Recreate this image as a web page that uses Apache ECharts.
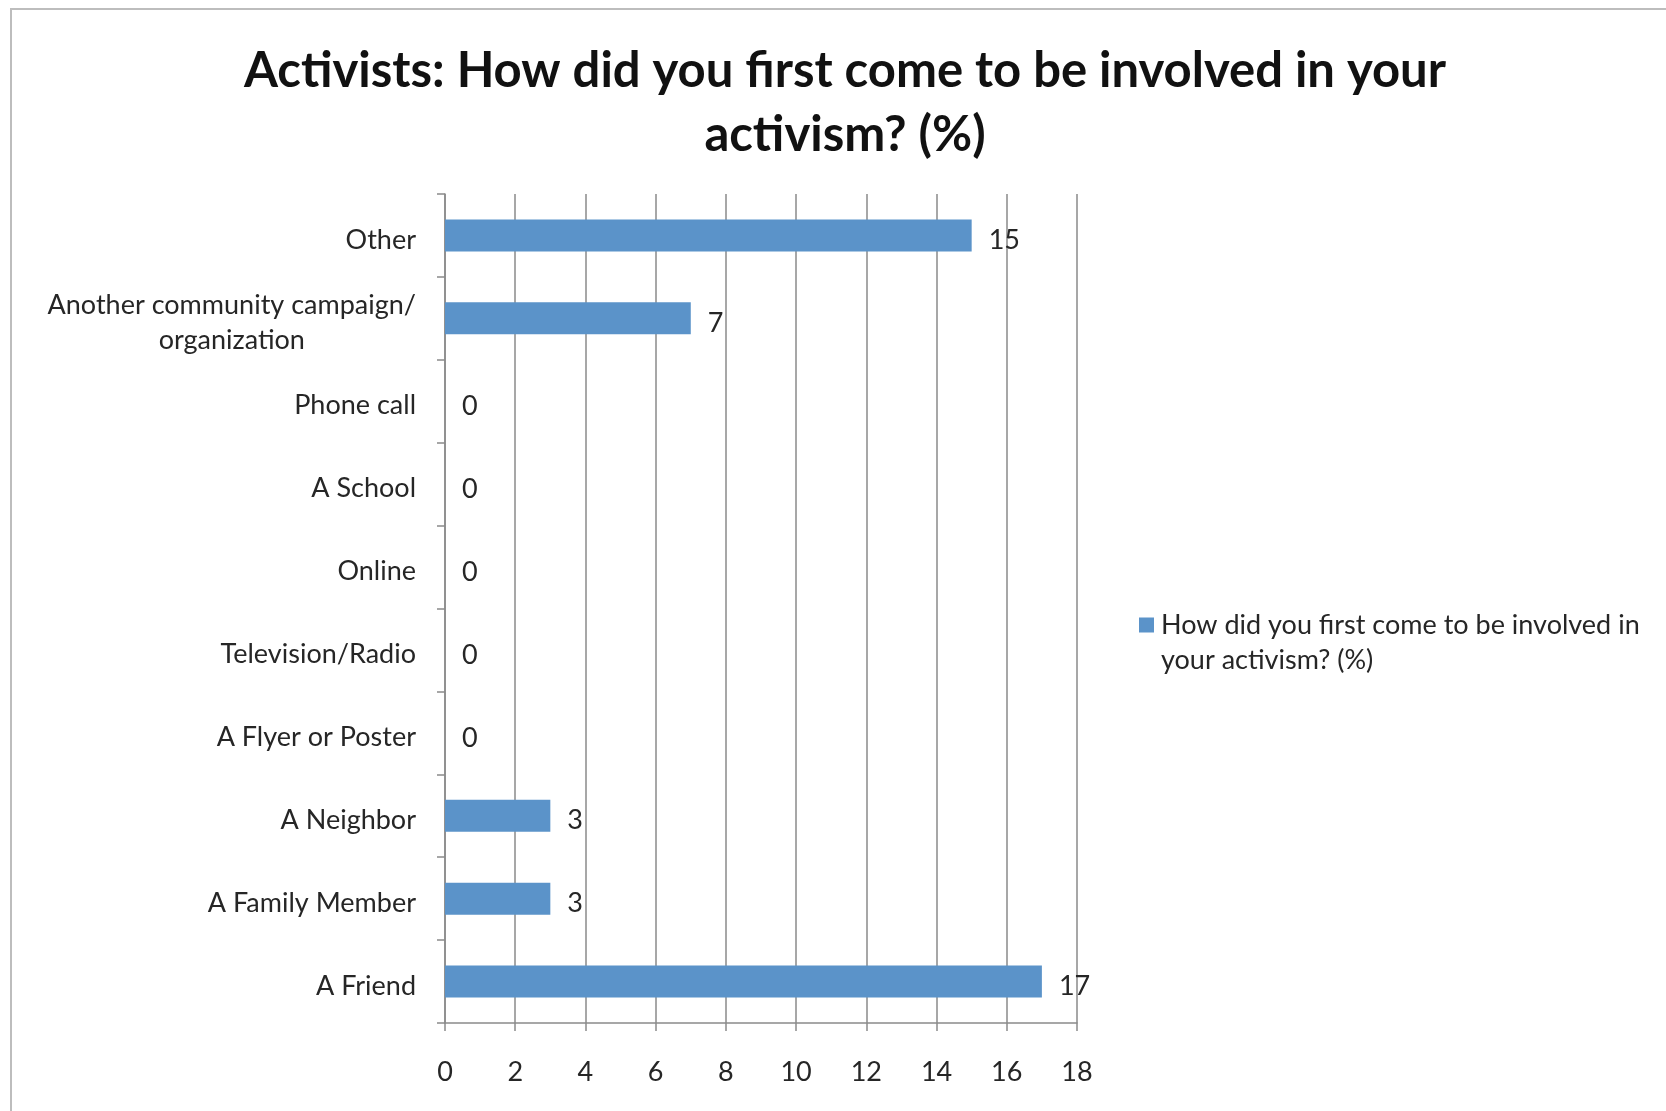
<!DOCTYPE html>
<html>
<head>
<meta charset="utf-8">
<title>Activists: How did you first come to be involved in your activism? (%)</title>
<script src="https://cdn.jsdelivr.net/npm/echarts@6/dist/echarts.min.js"></script>
<style>
  html, body { margin: 0; padding: 0; background: #ffffff; }
  #chart { width: 1666px; height: 1111px; }
</style>
</head>
<body>
<div id="chart"></div>
<script>
// Categories listed bottom to top (category axis starts at the bottom)
const categories = [
  'A Friend',
  'A Family Member',
  'A Neighbor',
  'A Flyer or Poster',
  'Television/Radio',
  'Online',
  'A School',
  'Phone call',
  'Another community campaign/\norganization',
  'Other'
];
const shares = [17, 3, 3, 0, 0, 0, 0, 0, 7, 15];
const seriesName = 'How did you first come to be involved in your activism? (%)';
const legendLines = ['How did you first come to be involved in', 'your activism? (%)'];
const titleText = 'Activists: How did you first come to be involved in your\nactivism? (%)';

const FONT = 'Lato, "Open Sans", sans-serif';
const TEXT = '#262626';
const GRID = '#8a8a8a';
const BAR = '#5b93c9';
const FS = 27;

const chart = echarts.init(document.getElementById('chart'), null, { renderer: 'canvas' });

chart.setOption({
  backgroundColor: '#ffffff',
  animation: false,
  graphic: [{
    type: 'rect',
    shape: { x: 11, y: 9, width: 2000, height: 2000 },
    style: { fill: 'none', stroke: '#bdbdbd', lineWidth: 2 },
    silent: true,
    z: -10
  }],
  title: {
    text: titleText,
    left: 840,
    textAlign: 'center',
    top: 34,
    textStyle: {
      fontFamily: FONT,
      fontWeight: 'bold',
      fontSize: 49,
      lineHeight: 64,
      color: '#111111'
    }
  },
  legend: {
    left: 1139,
    top: 571,
    padding: 0,
    itemWidth: 15,
    itemHeight: 15,
    itemGap: 0,
    icon: 'rect',
    selectedMode: false,
    // leading blank line keeps the swatch level with the first text line
    formatter: () => '\n' + legendLines.join('\n'),
    textStyle: {
      fontFamily: FONT,
      fontSize: FS,
      lineHeight: 35,
      color: TEXT,
      padding: [3, 0, 0, 2]
    }
  },
  grid: {
    left: 445,
    right: 589,
    top: 194,
    bottom: 88,
    containLabel: false
  },
  xAxis: {
    type: 'value',
    min: 0,
    max: 18,
    interval: 2,
    axisLine: { show: true, lineStyle: { color: GRID, width: 1.5 } },
    axisTick: { show: true, length: 8, lineStyle: { color: GRID, width: 1.5 } },
    splitLine: { show: true, lineStyle: { color: GRID, width: 1.5 } },
    axisLabel: {
      margin: 36,
      fontFamily: FONT,
      fontSize: FS,
      color: TEXT
    }
  },
  yAxis: {
    type: 'category',
    data: categories,
    boundaryGap: true,
    axisLine: { show: true, lineStyle: { color: GRID, width: 1.5 } },
    axisTick: { show: true, length: 8, alignWithLabel: false, lineStyle: { color: GRID, width: 1.5 } },
    splitLine: { show: false },
    axisLabel: {
      margin: 29,
      fontFamily: FONT,
      fontSize: FS,
      color: TEXT,
      lineHeight: 35,
      padding: [9, 0, 0, 0],
      formatter: (v) => v.split('\n').map((s) => '{c|' + s + '}').join('\n'),
      rich: {
        c: { align: 'center', fontFamily: FONT, fontSize: FS, color: TEXT, lineHeight: 35 }
      }
    }
  },
  series: [{
    name: seriesName,
    type: 'bar',
    data: shares,
    barWidth: 32,
    itemStyle: { color: BAR },
    label: {
      show: true,
      position: 'right',
      distance: 17,
      offset: [0, 5],
      fontFamily: FONT,
      fontSize: FS,
      color: TEXT
    }
  }]
});
</script>
</body>
</html>
